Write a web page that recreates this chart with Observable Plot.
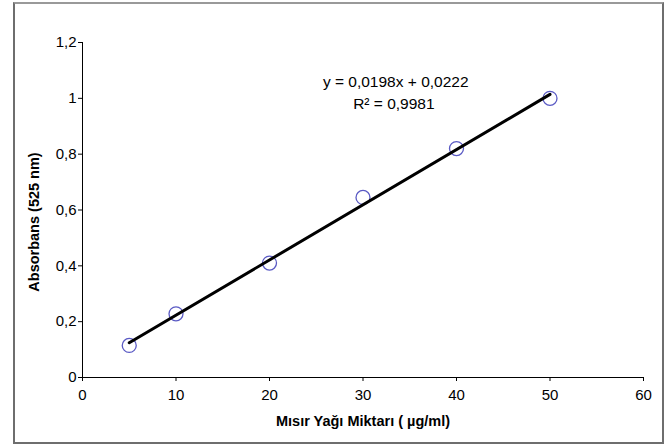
<!DOCTYPE html>
<html>
<head>
<meta charset="utf-8">
<script src="https://cdn.jsdelivr.net/npm/d3@7"></script>
<script src="https://cdn.jsdelivr.net/npm/@observablehq/plot@0.6"></script>
<style>
  html, body { margin: 0; padding: 0; background: #fff; }
  #wrap { position: relative; width: 667px; height: 444px; }
  #border { position: absolute; left: 13px; top: 2px; width: 647px; height: 438px; border: 2px solid #6e6e6e; border-top-color:#999; pointer-events: none; }
</style>
</head>
<body>
<div id="wrap"><div id="border"></div></div>
<script>
const concentration = [5, 10, 20, 30, 40, 50];
const absorbance = [0.115, 0.228, 0.41, 0.645, 0.82, 1.0];
const xTicks = [0, 10, 20, 30, 40, 50, 60];
const yTicks = [0, 0.2, 0.4, 0.6, 0.8, 1.0, 1.2];
const equationText = ["y = 0,0198x + 0,0222", "R² = 0,9981"];
const equationX = [33.5, 33.3];
const equationY = [1.058, 0.98];

const points = concentration.map((x, i) => ({x, y: absorbance[i]}));
const labels = equationText.map((t, i) => ({t, x: equationX[i], y: equationY[i]}));
const fmt = d => String(d).replace(".", ",");

const chart = Plot.plot({
  width: 667,
  height: 444,
  marginLeft: 82,
  marginRight: 24,
  marginTop: 42,
  marginBottom: 67,
  style: {fontFamily: "'Liberation Sans', Arial, sans-serif", fontSize: "15px", color: "#000", background: "transparent"},
  x: {domain: [0, 60]},
  y: {domain: [0, 1.2]},
  marks: [
    Plot.axisX({ticks: xTicks, tickSize: 4, tickPadding: 8, tickFormat: d => d, fontSize: 15,
      label: "Mısır Yağı Miktarı ( µg/ml)", labelAnchor: "center", labelArrow: "none", labelOffset: 48}),
    Plot.axisY({ticks: yTicks, tickSize: 4, tickPadding: 2, tickFormat: fmt, fontSize: 15,
      label: "Absorbans (525 nm)", labelAnchor: "center", labelArrow: "none", labelOffset: 54}),
    Plot.ruleX([0], {stroke: "#000", strokeWidth: 1}),
    Plot.ruleY([0], {stroke: "#000", strokeWidth: 1}),
    Plot.dot(points, {x: "x", y: "y", r: 7, stroke: "#5a5ac4", strokeWidth: 1.3, fill: "none"}),
    Plot.linearRegressionY(points, {x: "x", y: "y", ci: 0, stroke: "#000", strokeWidth: 3}),
    Plot.text(labels, {x: "x", y: "y", text: "t", fontSize: 15.5, fill: "#000"})
  ]
});
d3.select(chart).selectAll("[aria-label='x-axis label'] text, [aria-label='y-axis label'] text")
  .style("font-weight", "bold").style("font-size", "14.5px");
const yl = d3.select(chart).select("[aria-label='y-axis label']");
yl.attr("transform", "translate(0,12) " + (yl.attr("transform") || ""));
document.getElementById("wrap").prepend(chart);
</script>
</body>
</html>
